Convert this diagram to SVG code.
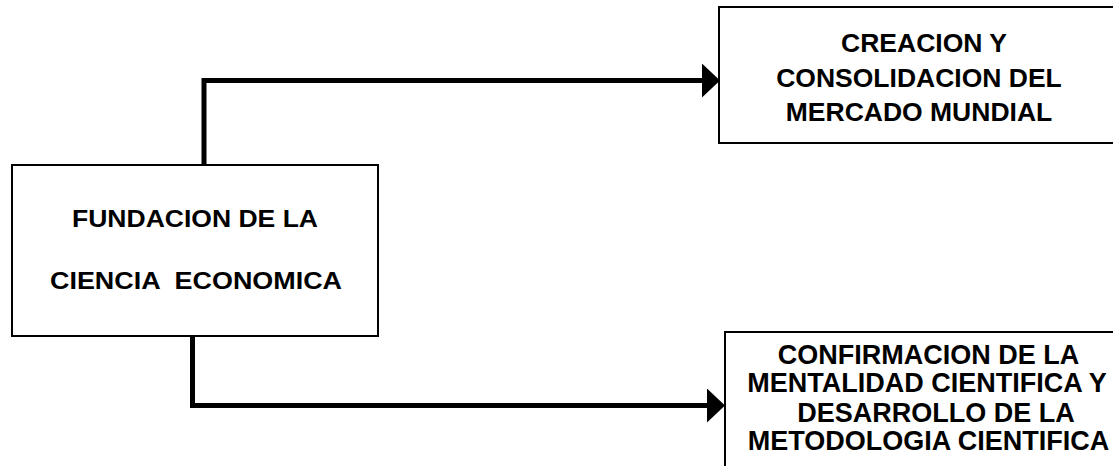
<svg xmlns="http://www.w3.org/2000/svg" width="1113" height="466" viewBox="0 0 1113 466">
  <style>
    .box { fill: #ffffff; stroke: #000000; stroke-width: 2; }
    .conn { fill: none; stroke: #000000; stroke-width: 5; stroke-linejoin: miter; }
    .t { font-family: "Liberation Sans", Arial, sans-serif; font-weight: bold; fill: #000000; text-anchor: middle; }
    .t24 { font-size: 24px; }
    .t26 { font-size: 26.5px; }
    .t27 { font-size: 27px; }
  </style>
  <defs>
    <marker id="arrow" markerUnits="userSpaceOnUse" markerWidth="18" markerHeight="34" refX="0" refY="17" orient="auto" viewBox="0 0 18 34">
      <path d="M0,0 L18,17 L0,34 Z" fill="#000000"/>
    </marker>
  </defs>
  <rect width="1113" height="466" fill="#ffffff"/>

  <g id="connectors">
    <path class="conn" d="M204,165 L204,80.5 L702,80.5" marker-end="url(#arrow)"/>
    <path class="conn" d="M192.5,336 L192.5,405.5 L707,405.5" marker-end="url(#arrow)"/>
  </g>

  <g id="node-fundacion">
    <rect class="box" x="12" y="165" width="366" height="171"/>
    <text class="t t24" x="195" y="226.5" textLength="246" lengthAdjust="spacingAndGlyphs">FUNDACION DE LA</text>
    <text class="t t24" x="196" y="289" textLength="292" lengthAdjust="spacingAndGlyphs" xml:space="preserve">CIENCIA  ECONOMICA</text>
  </g>

  <g id="node-creacion">
    <rect class="box" x="719" y="7" width="400" height="136"/>
    <text class="t t26" x="924" y="52">CREACION Y</text>
    <text class="t t26" x="919" y="86.5">CONSOLIDACION DEL</text>
    <text class="t t26" x="919" y="121">MERCADO MUNDIAL</text>
  </g>

  <g id="node-confirmacion">
    <rect class="box" x="725" y="332" width="400" height="200"/>
    <text class="t t27" x="928.5" y="363.5">CONFIRMACION DE LA</text>
    <text class="t t27" x="927" y="392">MENTALIDAD CIENTIFICA Y</text>
    <text class="t t27" x="936" y="421.5">DESARROLLO DE LA</text>
    <text class="t t27" x="928.5" y="450">METODOLOGIA CIENTIFICA</text>
  </g>
</svg>
